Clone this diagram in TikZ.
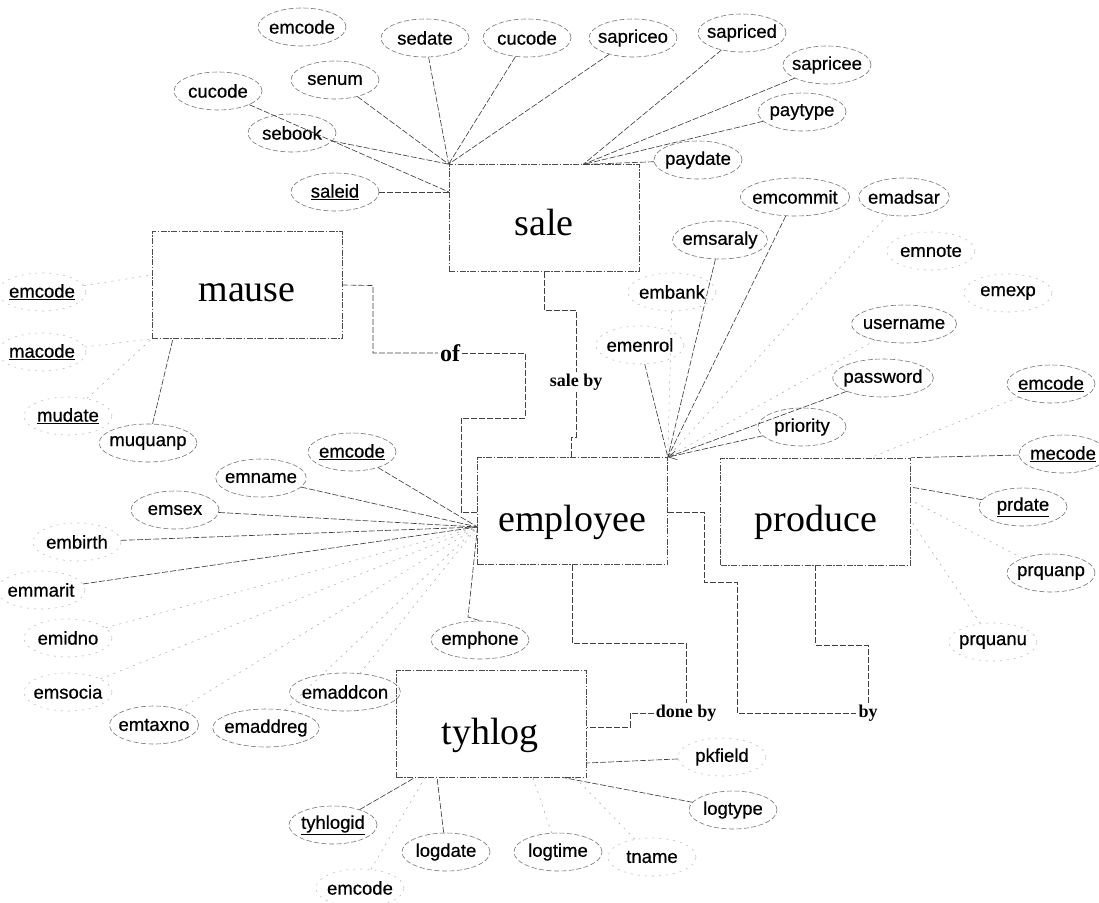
\documentclass[tikz,border=0pt]{standalone}
\usepackage{fontspec}
\setmainfont{Liberation Serif}
\newfontfamily\attrfamily[FakeBold=0.6]{Liberation Sans}
\usetikzlibrary{shapes.geometric,arrows.meta}

\newcommand{\attrsize}{\attrfamily\fontsize{18.5}{20}\selectfont}
\newcommand{\entsize}{\fontsize{38}{40}\selectfont}
\newcommand{\relsize}{\bfseries\fontsize{18}{20}\selectfont}
\newcommand{\ofsize}{\bfseries\fontsize{24}{26}\selectfont}
\newcommand{\keyattr}[1]{\underline{#1}}

\tikzset{
  ent/.style={draw=black!70, line width=0.7pt, dash pattern=on 6pt off 1.5pt on 1.5pt off 1.5pt,
    minimum width=190pt, minimum height=107pt, inner sep=0pt},
  enttext/.style={font=\entsize, inner sep=0pt},
  attr/.style={ellipse, draw=black!55, line width=0.6pt, dash pattern=on 5pt off 2.5pt,
    font=\attrsize, inner xsep=-4pt, inner ysep=0pt, minimum width=88pt, minimum height=38pt},
  attrfaint/.style={attr, draw=black!25, dash pattern=on 2pt off 5pt},
  relation/.style={font=\relsize, inner sep=2pt},
  link/.style={draw=black!75, line width=0.65pt, dash pattern=on 6pt off 2pt},
  linkfaint/.style={draw=black!35, line width=0.5pt, dash pattern=on 2pt off 5pt},
}

\begin{document}
\begin{tikzpicture}[x=1pt,y=-1pt]
\useasboundingbox (0,0) rectangle (1099,902);

% ---------- entities ----------
\node[ent] (sale) at (544,218) {};
\node[enttext] (saletxt) at (544,222) {sale};
\node[ent] (mause) at (247,285) {};
\node[enttext] (mausetxt) at (247,293) {mause};
\node[ent] (employee) at (572.5,511) {};
\node[enttext] (employeetxt) at (572,522) {employee};
\node[ent] (produce) at (815.5,511.5) {};
\node[enttext] (producetxt) at (816,522) {produce};
\node[ent] (tyhlog) at (491.5,724) {};
\node[enttext] (tyhlogtxt) at (490,735) {tyhlog};

% ---------- relationships ----------
\node[relation, font=\ofsize] (of) at (450,353) {of};
\node[relation] (saleby) at (576,382) {sale by};
\node[relation] (doneby) at (686,713) {done by};
\node[relation] (by) at (868,713) {by};

% ---------- sale attributes ----------
\node[attr] (emcodeA) at (302,27) {emcode};
\node[attr] (sedate) at (425,38) {sedate};
\node[attr] (cucodeA) at (527,38) {cucode};
\node[attr] (sapriceo) at (633,38) {sapriceo};
\node[attr] (sapriced) at (742,33) {sapriced};
\node[attr] (sapricee) at (827,65) {sapricee};
\node[attr] (paytype) at (802,112) {paytype};
\node[attr] (paydate) at (698,160) {paydate};
\node[attr] (senum) at (335,80) {senum};
\node[attr] (cucodeB) at (218,91) {cucode};
\node[attr] (sebook) at (292,133) {sebook};
\node[attr] (saleid) at (335,192) {\keyattr{saleid}};

% ---------- employee attributes (right) ----------
\node[attr] (emcommit) at (795,197) {emcommit};
\node[attr] (emadsar) at (904,197) {emadsar};
\node[attr] (emsaraly) at (720,240) {emsaraly};
\node[attrfaint] (emnote) at (931,251) {emnote};
\node[attrfaint] (embank) at (672,292) {embank};
\node[attrfaint] (emexp) at (1008,293) {emexp};
\node[attr] (username) at (904,324) {username};
\node[attrfaint] (emenrol) at (640,345) {emenrol};
\node[attr] (password) at (883,378) {password};
\node[attr] (priority) at (802,427) {priority};

% ---------- employee attributes (left) ----------
\node[attr] (emcodeC) at (352,452) {\keyattr{emcode}};
\node[attr] (emname) at (261,478) {emname};
\node[attr] (emsex) at (175,510) {emsex};
\node[attrfaint] (embirth) at (77,542) {embirth};
\node[attrfaint] (emmarit) at (41,590) {emmarit};
\node[attrfaint] (emidno) at (68,638) {emidno};
\node[attrfaint] (emsocia) at (68,692) {emsocia};
\node[attr] (emtaxno) at (154,725) {emtaxno};
\node[attr] (emaddreg) at (266,728) {emaddreg};
\node[attr] (emaddcon) at (345,692) {emaddcon};
\node[attr] (emphone) at (480,640) {emphone};

% ---------- mause attributes ----------
\node[attrfaint] (emcodeB) at (42,292) {\keyattr{emcode}};
\node[attrfaint] (macode) at (42,352) {\keyattr{macode}};
\node[attrfaint] (mudate) at (68,416) {\keyattr{mudate}};
\node[attr] (muquanp) at (148,443) {muquanp};

% ---------- produce attributes ----------
\node[attr] (emcodeD) at (1051,384) {\keyattr{emcode}};
\node[attr] (mecode) at (1063,454) {\keyattr{mecode}};
\node[attr] (prdate) at (1023,507) {\keyattr{prdate}};
\node[attr] (prquanp) at (1051,573) {prquanp};
\node[attrfaint] (prquanu) at (993,642) {prquanu};

% ---------- tyhlog attributes ----------
\node[attr] (tyhlogid) at (333,825) {\keyattr{tyhlogid}};
\node[attr] (logdate) at (446,852) {logdate};
\node[attr] (logtime) at (558,852) {logtime};
\node[attrfaint] (tname) at (652,857) {tname};
\node[attrfaint] (emcodeE) at (360,888) {emcode};
\node[attrfaint] (pkfield) at (722,757) {pkfield};
\node[attr] (logtype) at (733,810) {logtype};

% ---------- attachment points ----------
\coordinate (sTL) at (sale.north west);
\coordinate (sTR) at (583,164.5);
\coordinate (sL) at (449,192);
\coordinate (eTR) at (employee.north east);
\coordinate (eL) at (477.5,527);
\coordinate (eLof) at (477.5,512);
\coordinate (eTop) at (571,457.5);
\coordinate (eR) at (667.5,512);
\coordinate (mB) at (173,338.5);
\coordinate (mL) at (152,275);
\coordinate (pTR) at (produce.north east);
\coordinate (pT) at (870,458);
\coordinate (pR1) at (910.5,487);
\coordinate (pR2) at (910.5,500);
\coordinate (pR3) at (910.5,520);
\coordinate (tB1) at (415,777.5);
\coordinate (tB2) at (425,777.5);
\coordinate (tB3) at (437,777.5);
\coordinate (tB4) at (533,777.5);
\coordinate (tB5) at (563,777.5);
\coordinate (tB6) at (575,777.5);
\coordinate (tR1) at (586.5,763);
\coordinate (tR2) at (586.5,727);

% ---------- sale attribute links ----------
\draw[link] (sedate) -- (sTL);
\draw[link] (cucodeA) -- (sTL);
\draw[link] (sapriceo) -- (sTL);
\draw[link] (senum) -- (sTL);
\draw[link] (sebook) -- (sTL);
\draw[link] (cucodeB) -- (sL);
\draw[link] (saleid) -- (sL);
\draw[link] (sapriced) -- (sTR);
\draw[link] (sapricee) -- (sTR);
\draw[link] (paytype) -- (sTR);
\draw[link] (paydate) -- (sTR);

% ---------- employee attribute links ----------
\draw[link] (emenrol) -- (eTR);
\draw[linkfaint] (embank) -- (eTR);
\draw[link] (emsaraly) -- (eTR);
\draw[link] (emcommit) -- (eTR);
\draw[linkfaint] (emadsar) -- (eTR);
\draw[linkfaint] (username) -- (eTR);
\draw[link] (password) -- (eTR);
\draw[link, -{Straight Barb[length=8pt,width=9pt]}] (priority) -- (eTR);

\draw[link] (emcodeC) -- (eL);
\draw[link] (emname) -- (eL);
\draw[link] (emsex) -- (eL);
\draw[link] (embirth) -- (eL);
\draw[link] (emmarit) -- (eL);
\draw[linkfaint] (emidno) -- (eL);
\draw[linkfaint] (emsocia) -- (eL);
\draw[linkfaint] (emtaxno) -- (eL);
\draw[linkfaint] (emaddreg) -- (eL);
\draw[linkfaint] (emaddcon) -- (eL);
\draw[link] (eL) -- (468,617) -- (emphone.north);

% ---------- mause attribute links ----------
\draw[link] (muquanp) -- (mB);
\draw[linkfaint] (emcodeB) -- (mL);
\draw[linkfaint] (macode) -- (mause.south west);
\draw[linkfaint] (mudate) -- (mause.south west);

% ---------- produce attribute links ----------
\draw[link] (mecode) -- (pTR);
\draw[linkfaint] (emcodeD) -- (pT);
\draw[link] (prdate) -- (pR1);
\draw[linkfaint] (prquanp) -- (pR2);
\draw[linkfaint] (prquanu) -- (pR3);

% ---------- tyhlog attribute links ----------
\draw[link] (tyhlogid) -- (tB1);
\draw[linkfaint] (emcodeE) -- (tB2);
\draw[link] (logdate) -- (tB3);
\draw[linkfaint] (logtime) -- (tB4);
\draw[link] (logtype) -- (tB5);
\draw[linkfaint] (tname) -- (tB6);
\draw[link] (pkfield) -- (tR1);

% ---------- relationship links ----------
\draw[link] (mause.east) -- (373,285.5) -- (373,353) -- (of.west);
\draw[link] (of.east) -- (525,353) -- (525,418) -- (461,418) -- (461,512) -- (eLof);
\draw[link] (sale.south) -- (544,310) -- (576,310) -- (saleby.north);
\draw[link] (saleby.south) -- (576,437) -- (571,437) -- (eTop);
\draw[link] (eR) -- (704,512) -- (704,582) -- (737,582) -- (737,713) -- (by.west);
\draw[link] (produce.south) -- (815.5,645) -- (868,645) -- (by.north);
\draw[link] (employee.south) -- (572.5,643) -- (686,643) -- (doneby.north);
\draw[link] (doneby.west) -- (630,713) -- (630,727) -- (tR2);

\end{tikzpicture}
\end{document}
